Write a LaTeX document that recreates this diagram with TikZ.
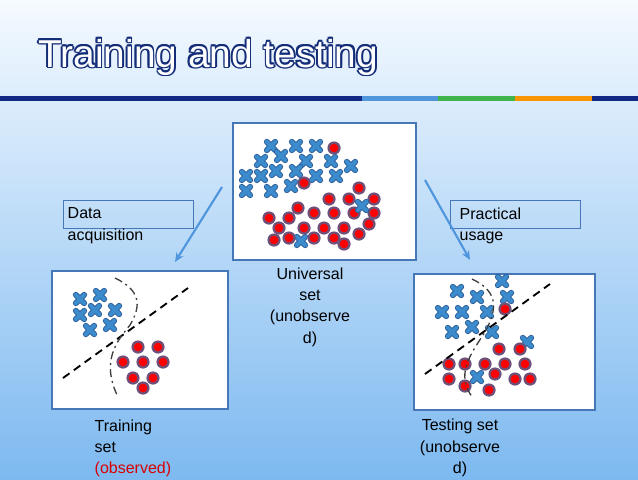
\documentclass[tikz,border=0pt]{standalone}
\usepackage{fontspec}
\setmainfont{Liberation Sans}
\usetikzlibrary{calc,arrows.meta}
\begin{document}
\begin{tikzpicture}[x=0.75pt,y=-0.75pt,
  panel/.style={draw=boxblue,line width=1.5pt,fill=white},
  lab/.style={draw=boxblue,line width=0.6pt,minimum width=97.5pt,minimum height=21pt},
  txt/.style={align=center,font=\fontsize{12}{16}\selectfont,text=black},
  arr/.style={draw=arrblue,line width=1.6pt,-{Stealth[length=7pt,width=6pt]}}]
\definecolor{boxblue}{RGB}{70,120,185}
\definecolor{arrblue}{RGB}{80,150,220}
\definecolor{xblue}{RGB}{60,140,205}
\definecolor{xdark}{RGB}{40,90,150}
\definecolor{ttl}{RGB}{20,45,120}
\definecolor{bgtop}{RGB}{245,250,255}
\definecolor{bgbot}{RGB}{125,185,240}
\definecolor{rimc}{RGB}{110,80,120}
\newcommand{\xm}[1]{\draw[xdark,line width=4.4pt,line cap=round] ($(#1)+(-4.2,-4.2)$) -- ($(#1)+(4.2,4.2)$) ($(#1)+(-4.2,4.2)$) -- ($(#1)+(4.2,-4.2)$);
 \draw[xblue,line width=3pt,line cap=round] ($(#1)+(-4.2,-4.2)$) -- ($(#1)+(4.2,4.2)$) ($(#1)+(-4.2,4.2)$) -- ($(#1)+(4.2,-4.2)$);}
\newcommand{\om}[1]{\fill[rimc] (#1) circle (6.6); \fill[red] (#1) circle (4.3);}
\useasboundingbox (0,0) rectangle (638,479);
\shade[top color=bgtop,bottom color=bgbot] (0,0) rectangle (638,479);
% title rule
\fill[ttl!90!blue] (0,96) rectangle (362,101);
\fill[arrblue] (362,96) rectangle (438,101);
\fill[green!45!gray!90!teal] (438,96) rectangle (515,101);
\fill[orange!80!yellow!90!brown] (515,96) rectangle (592,101);
\fill[ttl!90!blue] (592,96) rectangle (638,101);
% title
\foreach \dx/\dy in {-1.6/0,1.6/0,0/-1.6,0/1.6,-1.2/-1.2,1.2/1.2,-1.2/1.2,1.2/-1.2}
  \node[anchor=base west,inner sep=0,text=ttl] at ($(38,67)+(\dx,\dy)$) {\resizebox{255pt}{!}{\fontsize{30}{30}\selectfont Training and testing}};
\node[anchor=base west,inner sep=0,text=white] (title) at (38,67) {\resizebox{255pt}{!}{\fontsize{30}{30}\selectfont Training and testing}};
% panels
\draw[panel] (233,123) rectangle (416,260);
\draw[panel] (52,271) rectangle (228,409);
\draw[panel] (414,274) rectangle (595,410);
% labels
\node[lab] (da) at (128,214) {};
\node[lab] (pu) at (515,214) {};
\node[txt,align=left,anchor=north west] (dat) at (63,203) {Data\\acquisition};
\node[txt,align=left,anchor=north west] (put) at (455,203) {Practical\\usage};
\node[txt] (ut) at (310,307) {Universal\\set\\(unobserve\\d)};
\node[txt,align=left,anchor=north west] (tt) at (90,415) {Training\\set\\\textcolor{red!85!black}{(observed)}};
\node[txt] (te) at (460,448) {Testing set\\(unobserve\\d)};
% arrows
\coordinate (a1) at (222,187); \coordinate (a2) at (175,262);
\coordinate (b1) at (425,180); \coordinate (b2) at (470,260);
\draw[arr] (a1) -- (a2);
\draw[arr] (b1) -- (b2);
% universal
\foreach \p in {{271,146},{296,146},{316,146},{281,156},{261,161},{306,161},{331,161},{351,166},{246,176},{261,176},{276,171},{296,171},{316,176},{336,176},{246,191},{271,191},{291,186},{301,241}} {\xm{\p}}
\foreach \p in {{334,148},{304,183},{359,188},{329,199},{349,199},{374,199},{298,208},{269,218},{289,218},{314,213},{334,213},{354,213},{374,213},{279,228},{304,228},{324,228},{344,228},{369,224},{274,240},{289,238},{314,238},{334,238},{344,244},{359,234}} {\om{\p}}
\xm{362,206}
% training
\foreach \p in {{80,299},{100,295},{80,315},{95,310},{115,310},{90,330},{110,325}} {\xm{\p}}
\foreach \p in {{138,347},{158,347},{123,362},{143,362},{163,362},{133,378},{153,378},{143,388}} {\om{\p}}
\draw[black,line width=1.4pt,dash pattern=on 6pt off 4pt] (63,378) -- (188,288);
\draw[gray!50!black,line width=1pt,dash pattern=on 6pt off 3pt on 1.5pt off 3pt] (115,278) .. controls (140,290) and (142,305) .. (130,325) .. controls (118,340) and (100,360) .. (118,397);
% testing
\foreach \p in {{502,281},{457,291},{477,297},{507,297},{442,312},{462,312},{487,312},{472,327},{452,332},{492,332},{527,342},{477,377}} {\xm{\p}}
\foreach \p in {{505,309},{499,349},{520,349},{449,364},{465,364},{485,364},{505,364},{525,364},{449,379},{495,374},{515,379},{530,379},{465,386},{489,390}} {\om{\p}}
\draw[black,line width=1.4pt,dash pattern=on 6pt off 4pt] (425,374) -- (550,284);
\draw[gray!50!black,line width=1pt,dash pattern=on 6pt off 3pt on 1.5pt off 3pt] (472,279) .. controls (495,290) and (500,305) .. (485,332) .. controls (470,355) and (455,375) .. (473,398);
\end{tikzpicture}
\end{document}
